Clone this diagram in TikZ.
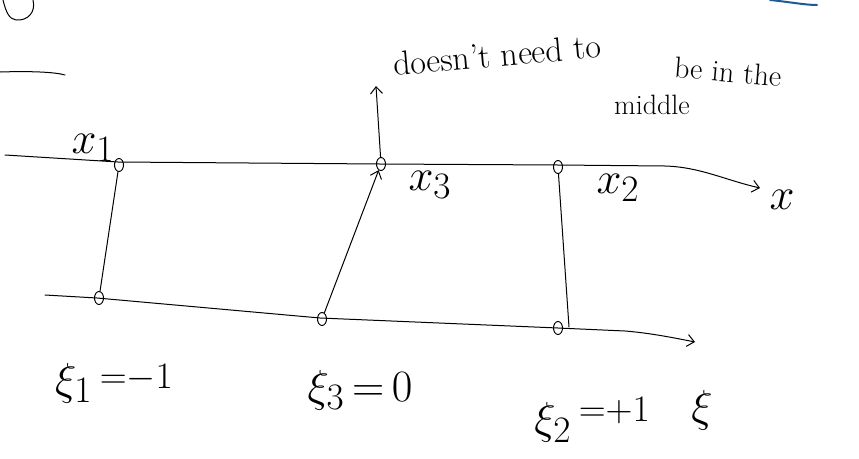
\RequirePackage{fix-cm}
\documentclass[tikz,border=0pt]{standalone}
\usetikzlibrary{arrows.meta,shapes.geometric}
\begin{document}
\begin{tikzpicture}[x=1pt,y=-1pt,
  ink/.style={line width=1pt,line cap=round,line join=round},
  tip/.style={-{Straight Barb[length=7pt,width=12pt]}},
  dot/.style={ellipse,draw,line width=1pt,inner sep=0pt,minimum width=9pt,minimum height=13pt},
  hand/.style={font=\fontsize{34}{40}\selectfont,inner sep=0pt},
  lab/.style={font=\fontsize{24.88}{30}\selectfont,inner sep=0pt,scale=1.8}]
\useasboundingbox (0,0) rectangle (859,458);
% stray marks
\draw[ink] (3,0) .. controls (6,12) and (9,19) .. (16,20) .. controls (28,21) and (36,12) .. (33,0);
\draw[ink] (0,72) .. controls (30,71) and (55,72) .. (65,75);
\draw[line width=2pt,color={rgb,255:red,30;green,90;blue,150},line cap=round] (770,0) .. controls (790,2) and (805,5) .. (817,5);
% axes
\draw[ink,tip] (5,155) -- (118,162) -- (380,164) -- (558,165) -- (665,166) .. controls (700,167) and (725,180) .. (760,188);
\draw[ink,tip] (45,295) -- (97,298) -- (320,318) -- (558,328) -- (625,331) .. controls (650,333) and (675,338) .. (695,342);
% points
\node[dot] (x1) at (119,165) {};
\node[dot] (x3) at (381,164) {};
\node[dot] (x2) at (558,167) {};
\node[dot] (xi1) at (99,298) {};
\node[dot] (xi3) at (322,319) {};
\node[dot] (xi2) at (558,328) {};
\coordinate (c2) at (569,327);
\coordinate (ann) at (376,86);
% connectors
\draw[ink] (x1) -- (xi1);
\draw[ink,tip] (xi3) -- (x3);
\draw[ink] (x2) -- (c2);
\draw[ink,tip] (x3) -- (ann);
% labels
\node[lab] (lx1) at (93,148) {$x_1$};
\node[lab] (lx3) at (430,185) {$x_3$};
\node[lab] (lx2) at (618,188) {$x_2$};
\node[lab] (lx) at (782,200) {$x$};
\node[lab] (lxi1) at (114,383) {$\xi_1\,\raisebox{0.3ex}{$\scriptstyle =-1$}$};
\node[lab] (lxi3) at (360,390) {$\xi_3\,{=}\,0$};
\node[lab] (lxi2) at (592,420) {$\xi_2\,\raisebox{0.6ex}{$\scriptstyle =+1$}$};
\node[lab] (lxi) at (702,410) {$\xi$};
% annotation
\node[hand,rotate=5] (t1) at (497,55) {doesn't need to};
\node[hand,font=\fontsize{28}{32}\selectfont] (t2) at (652,105) {middle};
\node[hand,rotate=-5,font=\fontsize{30}{34}\selectfont] (t3) at (728,72) {be in the};
\end{tikzpicture}
\end{document}
